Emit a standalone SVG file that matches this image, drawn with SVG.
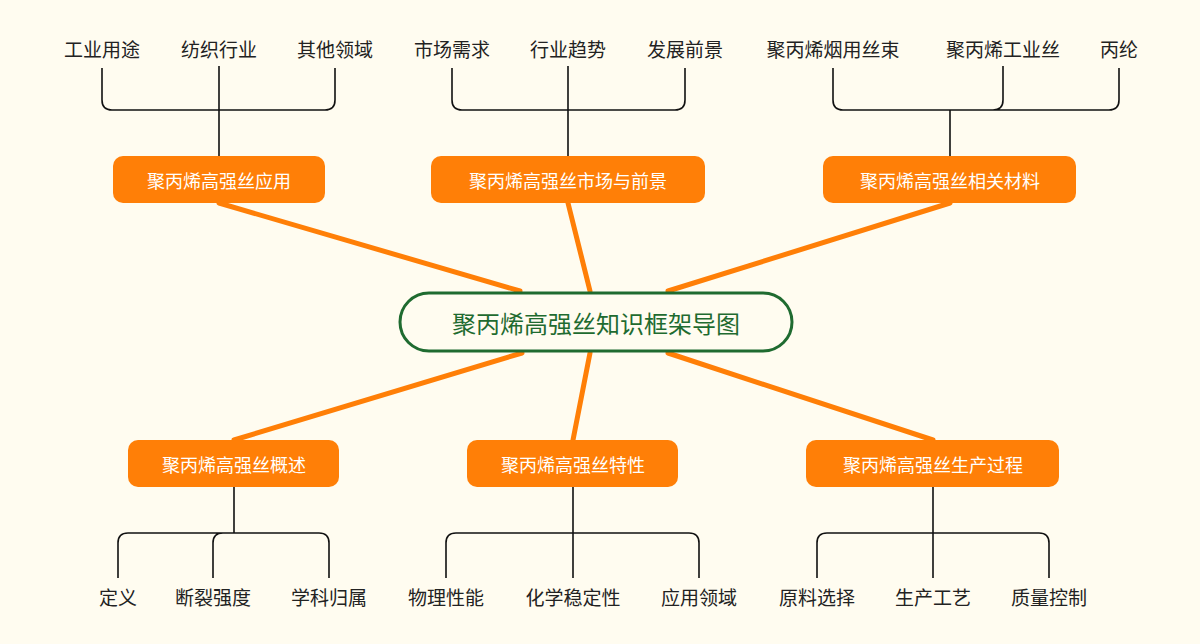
<svg xmlns="http://www.w3.org/2000/svg" width="1200" height="644" viewBox="0 0 1200 644">
<style>
text{font-family:"Noto Sans CJK SC","Noto Sans",sans-serif;text-anchor:middle;dominant-baseline:central}
.leaf{font-size:19px;fill:#222}
.nt{font-size:18px;fill:#fff}
.n rect{fill:#FF7F07}
.br{fill:none;stroke:#111;stroke-width:1.6}
.ol{stroke:#FF7F07;stroke-width:5;stroke-linecap:round}
</style>
<rect width="1200" height="644" fill="#FFFCF0"/>
<g id="connectors">
<line class="ol" x1="219" y1="203" x2="520" y2="291"/>
<line class="ol" x1="568" y1="203" x2="590" y2="291"/>
<line class="ol" x1="950" y1="203" x2="668" y2="291"/>
<line class="ol" x1="522" y1="353" x2="234" y2="440"/>
<line class="ol" x1="590" y1="353" x2="573" y2="440"/>
<line class="ol" x1="668" y1="353" x2="933" y2="440"/>
<path class="br" d="M102 68V100Q102 110 112 110H325Q335 110 335 100V68M219 66V156"/>
<path class="br" d="M452 68V100Q452 110 462 110H675Q685 110 685 100V68M568 66V156"/>
<path class="br" d="M833 68V100Q833 110 843 110H1109Q1119 110 1119 100V68M1003 66V100Q1003 110 993 110M950 110V156"/>
<path class="br" d="M118 578V543Q118 533 128 533H319Q329 533 329 543V578M234 487V533M213 578V543Q213 533 223 533"/>
<path class="br" d="M446 578V543Q446 533 456 533H689Q699 533 699 543V578M573 487V578"/>
<path class="br" d="M817 578V543Q817 533 827 533H1039Q1049 533 1049 543V578M933 487V578"/>
</g>
<g id="center"><rect x="400" y="293" width="392" height="58" rx="29" fill="#FFFCF0" stroke="#1F6B30" stroke-width="3"/><text x="596" y="322" font-size="24" fill="#1F6B30">聚丙烯高强丝知识框架导图</text></g>
<g id="n1" class="n"><rect x="113" y="156" width="212" height="47" rx="10"/><text class="nt" x="219" y="180">聚丙烯高强丝应用</text></g>
<g id="n2" class="n"><rect x="431" y="156" width="274" height="47" rx="10"/><text class="nt" x="568" y="180">聚丙烯高强丝市场与前景</text></g>
<g id="n3" class="n"><rect x="823" y="156" width="253" height="47" rx="10"/><text class="nt" x="950" y="180">聚丙烯高强丝相关材料</text></g>
<g id="n4" class="n"><rect x="128" y="440" width="211" height="47" rx="10"/><text class="nt" x="234" y="464">聚丙烯高强丝概述</text></g>
<g id="n5" class="n"><rect x="467" y="440" width="211" height="47" rx="10"/><text class="nt" x="573" y="464">聚丙烯高强丝特性</text></g>
<g id="n6" class="n"><rect x="806" y="440" width="253" height="47" rx="10"/><text class="nt" x="933" y="464">聚丙烯高强丝生产过程</text></g>
<g id="leaves">
<text class="leaf" x="102" y="48">工业用途</text><text class="leaf" x="219" y="48">纺织行业</text><text class="leaf" x="335" y="48">其他领域</text>
<text class="leaf" x="452" y="48">市场需求</text><text class="leaf" x="568" y="48">行业趋势</text><text class="leaf" x="685" y="48">发展前景</text>
<text class="leaf" x="833" y="48">聚丙烯烟用丝束</text><text class="leaf" x="1003" y="48">聚丙烯工业丝</text><text class="leaf" x="1119" y="48">丙纶</text>
<text class="leaf" x="118" y="596">定义</text><text class="leaf" x="213" y="596">断裂强度</text><text class="leaf" x="329" y="596">学科归属</text>
<text class="leaf" x="446" y="596">物理性能</text><text class="leaf" x="573" y="596">化学稳定性</text><text class="leaf" x="699" y="596">应用领域</text>
<text class="leaf" x="817" y="596">原料选择</text><text class="leaf" x="933" y="596">生产工艺</text><text class="leaf" x="1049" y="596">质量控制</text>
</g>
</svg>
